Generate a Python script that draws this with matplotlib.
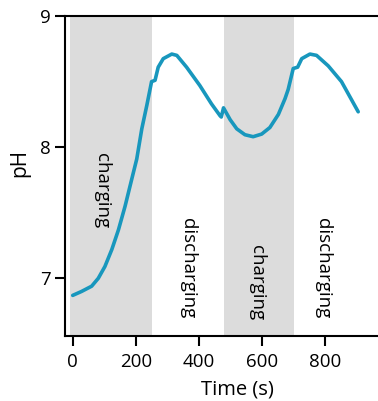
import matplotlib
matplotlib.use("Agg")
import matplotlib.pyplot as plt

# pH trace over two charge/discharge cycles
time_s = [0, 28, 60, 81, 102, 124, 145, 166, 187, 203, 219, 235, 250, 261, 271, 287,
          314, 330, 361, 403, 440, 467, 471, 478, 499, 520, 546, 572, 599, 625, 652,
          673, 683, 699, 713, 726, 752, 773, 810, 852, 905]
ph = [6.87, 6.90, 6.94, 7.00, 7.09, 7.22, 7.37, 7.55, 7.755, 7.91, 8.14, 8.32, 8.50,
      8.51, 8.61, 8.675, 8.71, 8.70, 8.61, 8.47, 8.33, 8.24, 8.23, 8.30, 8.21, 8.14,
      8.095, 8.08, 8.10, 8.15, 8.25, 8.37, 8.44, 8.60, 8.61, 8.675, 8.71, 8.70,
      8.62, 8.50, 8.27]

# charging intervals (shaded)
charge_windows = [(-10, 250), (480, 700)]
phase_labels = ["charging", "discharging", "charging", "discharging"]
phase_label_x = [92, 365, 583, 794]
phase_label_top = [0.571, 0.369, 0.284, 0.369]

xticks = [0, 200, 400, 600, 800]
yticks = [7, 8, 9]

plt.rcParams['font.family'] = ['Open Sans', 'DejaVu Sans']

fig = plt.figure(figsize=(3.78, 4.01), dpi=100)
ax = fig.add_axes([0.172, 0.162, 0.910, 0.798])

for start, end in charge_windows:
    ax.axvspan(start, end, color='#dcdcdc', lw=0, zorder=0)

ax.plot(time_s, ph, color='#1897bd', lw=2.6, solid_capstyle='round',
        solid_joinstyle='round', zorder=3)

for x, top, label in zip(phase_label_x, phase_label_top, phase_labels):
    ax.text(x, top, label, rotation=-90, ha='center', va='top', fontsize=13.5,
            color='black', zorder=4, transform=ax.get_xaxis_transform())

ax.set_xlim(-24.4, 1066)
ax.set_ylim(6.56, 9.0)
ax.set_xticks(xticks)
ax.set_yticks(yticks)
ax.tick_params(direction='out', length=7, width=1.5, labelsize=13.5)
ax.tick_params(axis='x', pad=5)
ax.tick_params(axis='y', pad=3)
for side in ['left', 'bottom', 'top']:
    ax.spines[side].set_linewidth(1.5)
ax.spines['right'].set_visible(False)
ax.set_xlabel('Time (s)', fontsize=14.5, labelpad=6)
ax.set_ylabel('pH', fontsize=15, labelpad=6)
ax.yaxis.set_label_coords(-0.1, 0.54)

fig.savefig('out.png', dpi=100)
